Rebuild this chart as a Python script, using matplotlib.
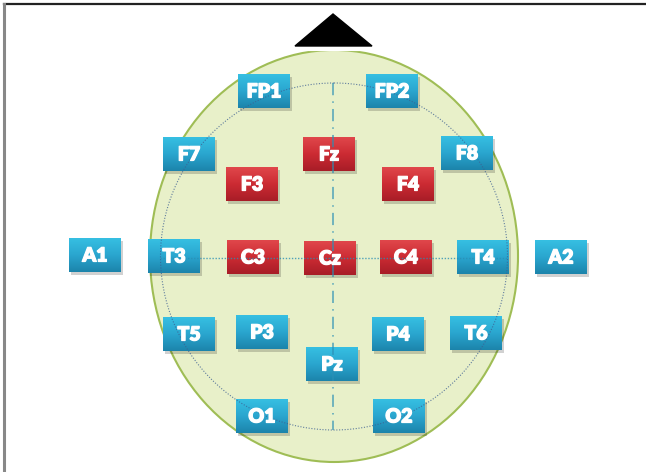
import numpy as np
import matplotlib
matplotlib.use('agg')
import matplotlib.pyplot as plt
import matplotlib.patheffects as pe
from matplotlib.patches import Ellipse, Polygon, Rectangle
from matplotlib.colors import LinearSegmentedColormap

# electrode labels (10-20 system)
labels_blue = ['FP1', 'FP2', 'F7', 'F8', 'A1', 'T3', 'T4', 'A2',
               'T5', 'P3', 'P4', 'T6', 'Pz', 'O1', 'O2']
labels_red = ['Fz', 'F3', 'F4', 'C3', 'Cz', 'C4']

# layout (picture units, y grows downward)
pos = {
    'FP1': (264, 91), 'FP2': (392, 91),
    'F7': (189, 154), 'F8': (467, 153),
    'Fz': (329, 154), 'F3': (252, 184), 'F4': (408, 184),
    'A1': (95, 255), 'T3': (174, 256), 'C3': (253, 257), 'Cz': (330, 258),
    'C4': (406, 257), 'T4': (483, 257), 'A2': (561, 257),
    'T5': (189, 334), 'P3': (262, 332), 'P4': (398, 334), 'T6': (476, 333),
    'Pz': (332, 364),
    'O1': (262, 416), 'O2': (399, 416),
}
BOX_W, BOX_H = 52, 34

fig = plt.figure(figsize=(6.46, 4.72), dpi=100)
ax = fig.add_axes([0, 0, 1, 1])
ax.set_xlim(0, 646)
ax.set_ylim(472, 0)
ax.axis('off')

# frame: top and left only
ax.plot([4, 646], [4, 4], color='#222222', lw=1.6, zorder=1)
ax.plot([4, 4], [4, 472], color='#888888', lw=2.2, zorder=1)

# head
head = Ellipse((334, 256), 368, 412, facecolor='#e8f0c9', edgecolor='#9fbd55', lw=1.5, zorder=2)
ax.add_patch(head)

# inner dotted circle and mid lines (drawn over the boxes, under the text)
inner = Ellipse((334, 256.5), 347, 347, facecolor='none', edgecolor='#3d5f92',
                lw=0.8, linestyle=(0, (1, 1.5)), alpha=0.8, zorder=8)
ax.add_patch(inner)
ax.plot([333, 333], [83, 430], color='#2a8fb5', lw=1.1, linestyle=(0, (8, 4, 1, 4)),
        alpha=0.8, zorder=8)
ax.plot([160, 507], [258, 258], color='#2a8fb5', lw=1.0, linestyle=(0, (1, 1.2)),
        alpha=0.8, zorder=8)

# nose
ax.plot([294, 373], [48.5, 48.5], color='white', lw=3, zorder=4)
nose = Polygon([(295, 46), (372, 46), (333, 14)], closed=True, facecolor='black', edgecolor='black', zorder=5)
ax.add_patch(nose)

blue_cmap = LinearSegmentedColormap.from_list('b', ['#36bfe2', '#2aa6cf', '#1c84ab'])
red_cmap = LinearSegmentedColormap.from_list('r', ['#e0474b', '#cc2b33', '#a81d27'])
grad = np.linspace(0, 1, 64).reshape(-1, 1)
bold = [pe.withStroke(linewidth=0.9, foreground='white')]


def draw_box(name, cmap):
    x, y = pos[name]
    x0, y0 = x - BOX_W / 2, y - BOX_H / 2
    # soft shadow
    ax.add_patch(Rectangle((x0 + 1.5, y0 + 2.5), BOX_W, BOX_H, facecolor='#000000',
                           alpha=0.18, edgecolor='none', zorder=6))
    ax.imshow(grad, cmap=cmap, extent=(x0, x0 + BOX_W, y0 + BOX_H, y0),
              aspect='auto', interpolation='bilinear', zorder=7)
    ax.text(x, y + 1, name, color='white', fontsize=14, fontweight='heavy',
            family=['Lato', 'DejaVu Sans'], ha='center', va='center', zorder=9,
            path_effects=bold)


for n in labels_blue:
    draw_box(n, blue_cmap)
for n in labels_red:
    draw_box(n, red_cmap)

ax.set_xlim(0, 646)
ax.set_ylim(472, 0)
fig.savefig('out.png', dpi=100)
